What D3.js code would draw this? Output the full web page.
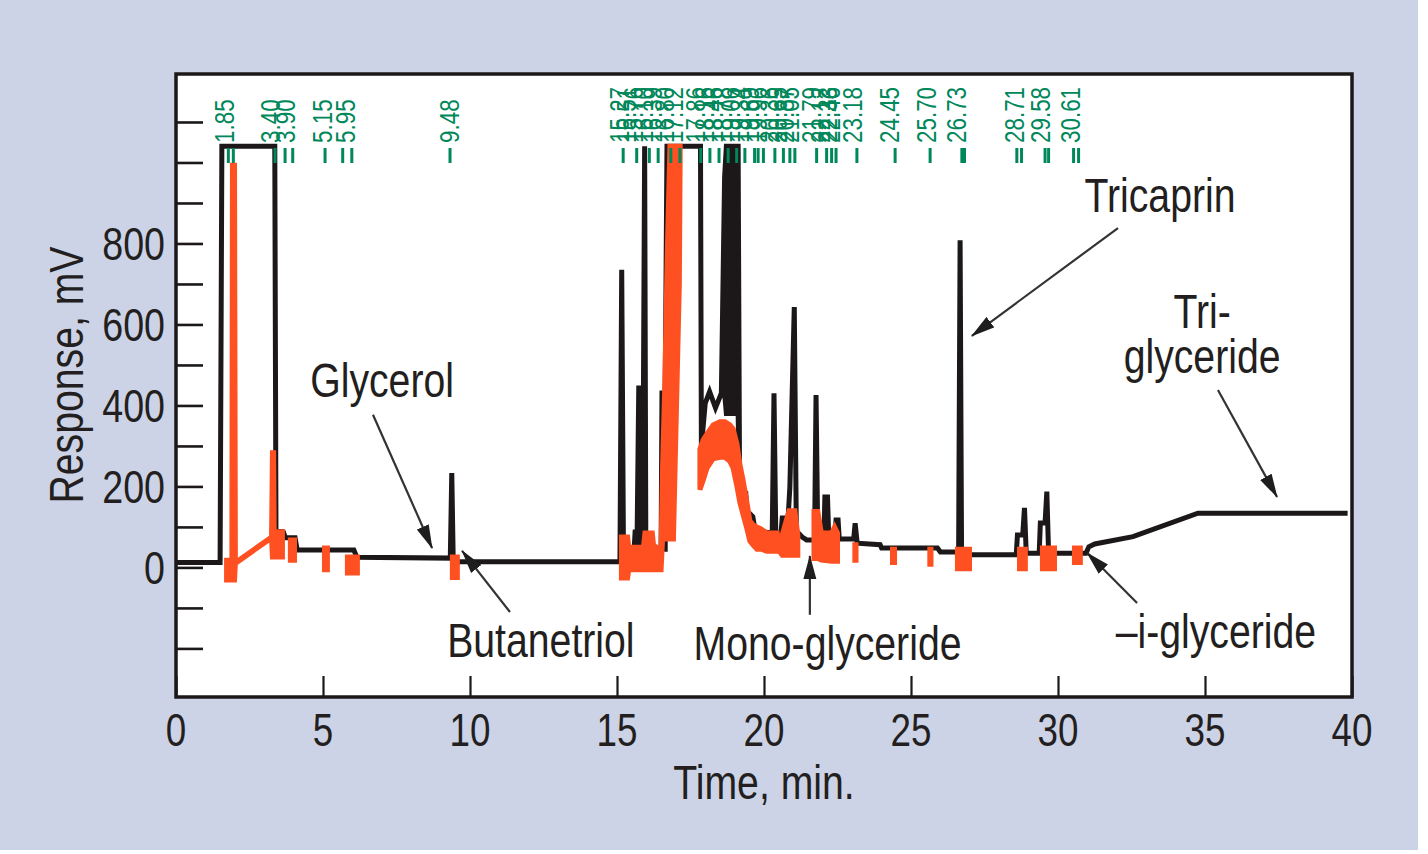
<!DOCTYPE html>
<html><head><meta charset="utf-8">
<script src="https://cdn.jsdelivr.net/npm/d3@7"></script>
<style>html,body{margin:0;padding:0;background:#fff;} svg{display:block;}</style>
</head><body>
<svg id="chart" width="1428" height="854"></svg>
<script>
// ---------------- data ----------------
const xTickValues = [0, 5, 10, 15, 20, 25, 30, 35, 40];
const yTickValues = [-200, -100, 0, 100, 200, 300, 400, 500, 600, 700, 800, 900, 1000, 1100];
const yLabelValues = [0, 200, 400, 600, 800];

// FID trace (black): time (min), lower and upper envelope (mV)
const blackTime = [0.00,1.50,1.56,3.36,3.40,3.65,3.72,4.05,4.12,6.05,6.15,9.33,9.38,9.43,15.10,15.16,15.22,15.40,15.58,15.62,15.68,15.74,15.90,15.94,15.98,16.50,16.53,16.64,16.70,17.84,17.87,18.00,18.15,18.35,18.55,18.66,18.72,19.12,19.17,19.38,19.42,19.62,19.70,20.28,20.34,20.40,20.58,20.62,20.82,20.88,21.03,21.10,21.30,21.45,21.72,21.77,21.83,22.04,22.07,22.16,22.20,22.42,22.45,22.52,22.56,23.05,23.10,23.17,23.95,24.00,25.90,26.00,26.62,26.67,26.72,28.58,28.62,28.80,28.86,28.92,29.36,29.40,29.56,29.62,29.68,30.95,31.05,31.25,32.55,34.76,39.85];
const blackLow  = [12,12,1040,1040,92,88,73,73,43,43,25,23,233,14,14,735,40,35,40,93,50,50,50,50,60,45,45,45,1040,1040,298,405,434,394,430,430,380,380,184,150,140,125,90,85,430,85,85,122,122,199,643,90,75,68,68,426,70,70,174,174,80,80,117,117,70,70,109,60,56,48,48,38,38,808,31,31,80,80,147,35,35,110,110,187,35,35,51,58,76,134,134];
const blackHigh = [12,12,1040,1040,92,88,73,73,43,43,25,23,233,14,14,735,40,35,40,93,50,443,443,1040,60,45,431,431,1040,1040,298,405,434,394,430,964,1040,1040,184,183,140,125,90,85,430,85,85,122,122,199,643,90,75,68,68,426,70,70,174,174,80,80,117,117,70,70,109,60,56,48,48,38,38,808,31,31,80,80,147,35,35,110,110,187,35,35,51,58,76,134,134];

// second trace (orange): null separates segments
const orangeTime = [1.72,1.90,1.92,1.99,2.02,3.25,3.28,3.32,3.34,3.62,null,
  3.89,4.03,null, 5.05,5.15,null, 5.83,6.17,null, 9.40,9.57,null,
  15.15,15.36,15.40,15.90,15.95,16.20,16.25,16.50,16.55,16.62,16.72,16.80,16.92,17.12,17.15,null,
  17.82,17.93,18.06,18.27,18.50,18.67,18.84,18.95,19.08,19.18,19.29,19.42,19.52,19.63,19.76,19.90,20.10,20.45,20.52,20.62,20.85,21.05,21.15,null,
  21.70,21.83,21.95,22.30,22.40,22.50,null, 23.09,23.13,null, 24.37,24.44,null, 25.64,25.68,null,
  26.58,26.99,null, 28.69,28.89,null, 29.47,29.88,null, 30.56,30.76];
const orangeLow = [-31,-31,-31,-31,10,73,26,26,26,26,null,
  18,18,null, -6,-6,null, -14,-14,null, -25,-25,null,
  -26,-26,-6,-6,-6,-6,-6,-6,70,70,70,70,70,700,1040,null,
  192,215,245,268,272,272,262,245,200,160,130,95,65,55,45,45,40,40,40,30,30,30,30,null,
  22,22,18,15,15,15,null, 18,18,null, 12,12,null, 8,8,null,
  -3,-3,null, -3,-3,null, -3,-3,null, 12,12];
const orangeHigh = [18,18,993,993,12,75,283,283,88,88,null,
  68,68,null, 48,48,null, 26,26,null, 26,26,null,
  75,75,50,50,85,85,50,50,250,437,808,1040,1040,1040,1040,null,
  292,315,330,352,360,360,352,342,305,255,215,160,115,105,100,95,85,85,55,80,140,140,80,null,
  138,138,85,85,100,85,null, 56,56,null, 45,45,null, 45,45,null,
  45,45,null, 45,45,null, 48,48,null, 48,48];

// retention-time markers and labels (green)
const peakMarkTimes = [1.78,1.95,3.37,3.71,3.97,5.07,5.67,5.98,9.32,15.21,15.67,16.10,16.40,16.83,17.14,17.85,18.16,18.47,18.78,19.07,19.35,19.68,19.80,19.98,20.37,20.66,20.88,21.05,21.79,22.13,22.30,22.45,23.16,24.46,25.65,26.73,26.82,28.60,28.76,29.56,29.68,30.53,30.70];
const peakLabels = ["1.85","3.40","3.90","5.15","5.95","9.48","15.27","15.51","15.76","16.10","16.39","16.80","17.12","17.86","18.16","18.46","18.78","19.06","19.34","19.69","19.96","20.36","20.65","20.87","21.05","21.79","22.12","22.33","22.46","23.18","24.45","25.70","26.73","28.71","29.58","30.61"];

// annotations (positions in data units: min, mV); multi-line labels are arrays of lines
const noteText = [["Glycerol"],["Butanetriol"],["Mono-glyceride"],["Tricaprin"],["Tri-","glyceride"],["\u2013i-glyceride"]];
const noteTime = [7.01, 12.41, 22.16, 33.47, 34.90, 35.37];
const noteMV   = [421, -221, -228, 878, 591, -199];
const arrowFromTime = [6.70, 11.36, 21.56, 32.04, 35.44, 32.69];
const arrowFromMV   = [377, -110, -117, 838, 438, -88];
const arrowToTime   = [8.71, 9.73, 21.56, 27.07, 37.45, 30.99];
const arrowToMV     = [48, 41, 28, 572, 174, 36];

// ---------------- drawing ----------------
const FONT = "'Liberation Sans','Arial',sans-serif";
const NARROW = 0.8;   // condensed look
const INK = "#231f20", GREEN = "#00875a", ORANGE = "#ff5022", TRACE = "#1c1819";
const svg = d3.select("#chart");
const plot = {left: 176, top: 74, right: 1352, bottom: 697};

svg.append("rect").attr("x", 0).attr("y", 0).attr("width", 1418).attr("height", 850).attr("fill", "#cdd3e6");

const x = d3.scaleLinear().domain([0, 40]).range([plot.left, plot.right]);
const y = d3.scaleLinear().domain([-320, 1218.5]).range([plot.bottom, plot.top]);

svg.append("rect").attr("x", plot.left).attr("y", plot.top)
  .attr("width", plot.right - plot.left).attr("height", plot.bottom - plot.top).attr("fill", "#fff");

svg.append("clipPath").attr("id", "clip").append("rect")
  .attr("x", plot.left).attr("y", plot.top).attr("width", plot.right - plot.left).attr("height", plot.bottom - plot.top);

function narrowText(sel, size, anchor) {
  return sel.attr("font-family", FONT).attr("font-size", size).attr("text-anchor", anchor);
}

// y ticks (inside) + labels
const yAxis = d3.axisLeft(y).tickValues(yTickValues).tickSize(-27).tickFormat("");
const gy = svg.append("g").attr("transform", `translate(${plot.left},0)`).call(yAxis);
gy.select(".domain").remove();
gy.selectAll(".tick line").attr("stroke", TRACE).attr("stroke-width", 2.6);
svg.append("g").selectAll("text").data(yLabelValues).join("text")
  .attr("transform", d => `translate(${plot.left - 11},${y(d)}) scale(${NARROW},1)`)
  .attr("dy", "0.36em").attr("fill", INK)
  .call(narrowText, 47, "end").text(d => d);

// x ticks (inside, from bottom) + labels
const xAxis = d3.axisBottom(x).tickValues(xTickValues).tickSize(-21).tickFormat("");
const gx = svg.append("g").attr("transform", `translate(0,${plot.bottom})`).call(xAxis);
gx.select(".domain").remove();
gx.selectAll(".tick line").attr("stroke", TRACE).attr("stroke-width", 2.2);
svg.append("g").selectAll("text").data(xTickValues).join("text")
  .attr("transform", d => `translate(${x(d)},${plot.bottom + 49}) scale(${NARROW},1)`)
  .attr("fill", INK).call(narrowText, 46, "middle").text(d => d);

// axis titles
svg.append("text")
  .attr("transform", `translate(${(plot.left + plot.right) / 2},${plot.bottom + 102}) scale(${NARROW},1)`)
  .attr("fill", INK).call(narrowText, 49, "middle").text("Time, min.");
svg.append("text")
  .attr("transform", `translate(83,375) rotate(-90) scale(${NARROW},1)`)
  .attr("fill", INK).call(narrowText, 49, "middle").text("Response, mV");

// traces
const traces = svg.append("g").attr("clip-path", "url(#clip)");
const blackData = blackTime.map((t, i) => ({t, lo: blackLow[i], hi: blackHigh[i]}));
const orangeData = orangeTime.map((t, i) => ({t, lo: orangeLow[i], hi: orangeHigh[i]}));
const band = d3.area().defined(d => d.t !== null)
  .x(d => x(d.t)).y0(d => y(d.lo)).y1(d => y(d.hi));

traces.append("path").datum(blackData).attr("d", band)
  .attr("fill", TRACE).attr("stroke", TRACE).attr("stroke-width", 5).attr("stroke-linejoin", "miter");
traces.append("path").datum(orangeData).attr("d", band)
  .attr("fill", ORANGE).attr("stroke", ORANGE).attr("stroke-width", 5).attr("stroke-linejoin", "miter");

// green retention-time markers & labels
svg.append("g").selectAll("line").data(peakMarkTimes).join("line")
  .attr("x1", d => x(d)).attr("x2", d => x(d))
  .attr("y1", plot.top + 74).attr("y2", plot.top + 89)
  .attr("stroke", GREEN).attr("stroke-width", 3);
svg.append("g").selectAll("text").data(peakLabels).join("text")
  .attr("transform", d => `translate(${x(+d) - 6},${plot.top + 69}) rotate(-90) scale(${NARROW},1)`)
  .attr("dy", "0.36em").attr("fill", GREEN)
  .call(narrowText, 28, "start").text(d => d);

// frame
svg.append("rect").attr("x", plot.left).attr("y", plot.top)
  .attr("width", plot.right - plot.left).attr("height", plot.bottom - plot.top)
  .attr("fill", "none").attr("stroke", TRACE).attr("stroke-width", 3.5);

// arrows
const defs = svg.append("defs");
defs.append("marker").attr("id", "head").attr("markerUnits", "userSpaceOnUse")
  .attr("viewBox", "0 -7 24 14").attr("refX", 23).attr("refY", 0)
  .attr("markerWidth", 24).attr("markerHeight", 14).attr("orient", "auto")
  .append("path").attr("d", "M0,-6.5L24,0L0,6.5Z").attr("fill", "#1e1e1e");
svg.append("g").selectAll("line").data(arrowFromTime).join("line")
  .attr("x1", d => x(d)).attr("y1", (d, i) => y(arrowFromMV[i]))
  .attr("x2", (d, i) => x(arrowToTime[i])).attr("y2", (d, i) => y(arrowToMV[i]))
  .attr("stroke", "#333").attr("stroke-width", 2.2).attr("marker-end", "url(#head)");

// annotation labels (wrapped lines as tspans)
const notes = svg.append("g").selectAll("text").data(noteText).join("text")
  .attr("transform", (d, i) => `translate(${x(noteTime[i])},${y(noteMV[i])}) scale(${NARROW},1)`)
  .attr("fill", INK).call(narrowText, 49, "middle");
notes.selectAll("tspan").data(d => d).join("tspan")
  .attr("x", 0).attr("dy", (d, j) => j === 0 ? 0 : 45).text(d => d);
</script>
</body></html>
